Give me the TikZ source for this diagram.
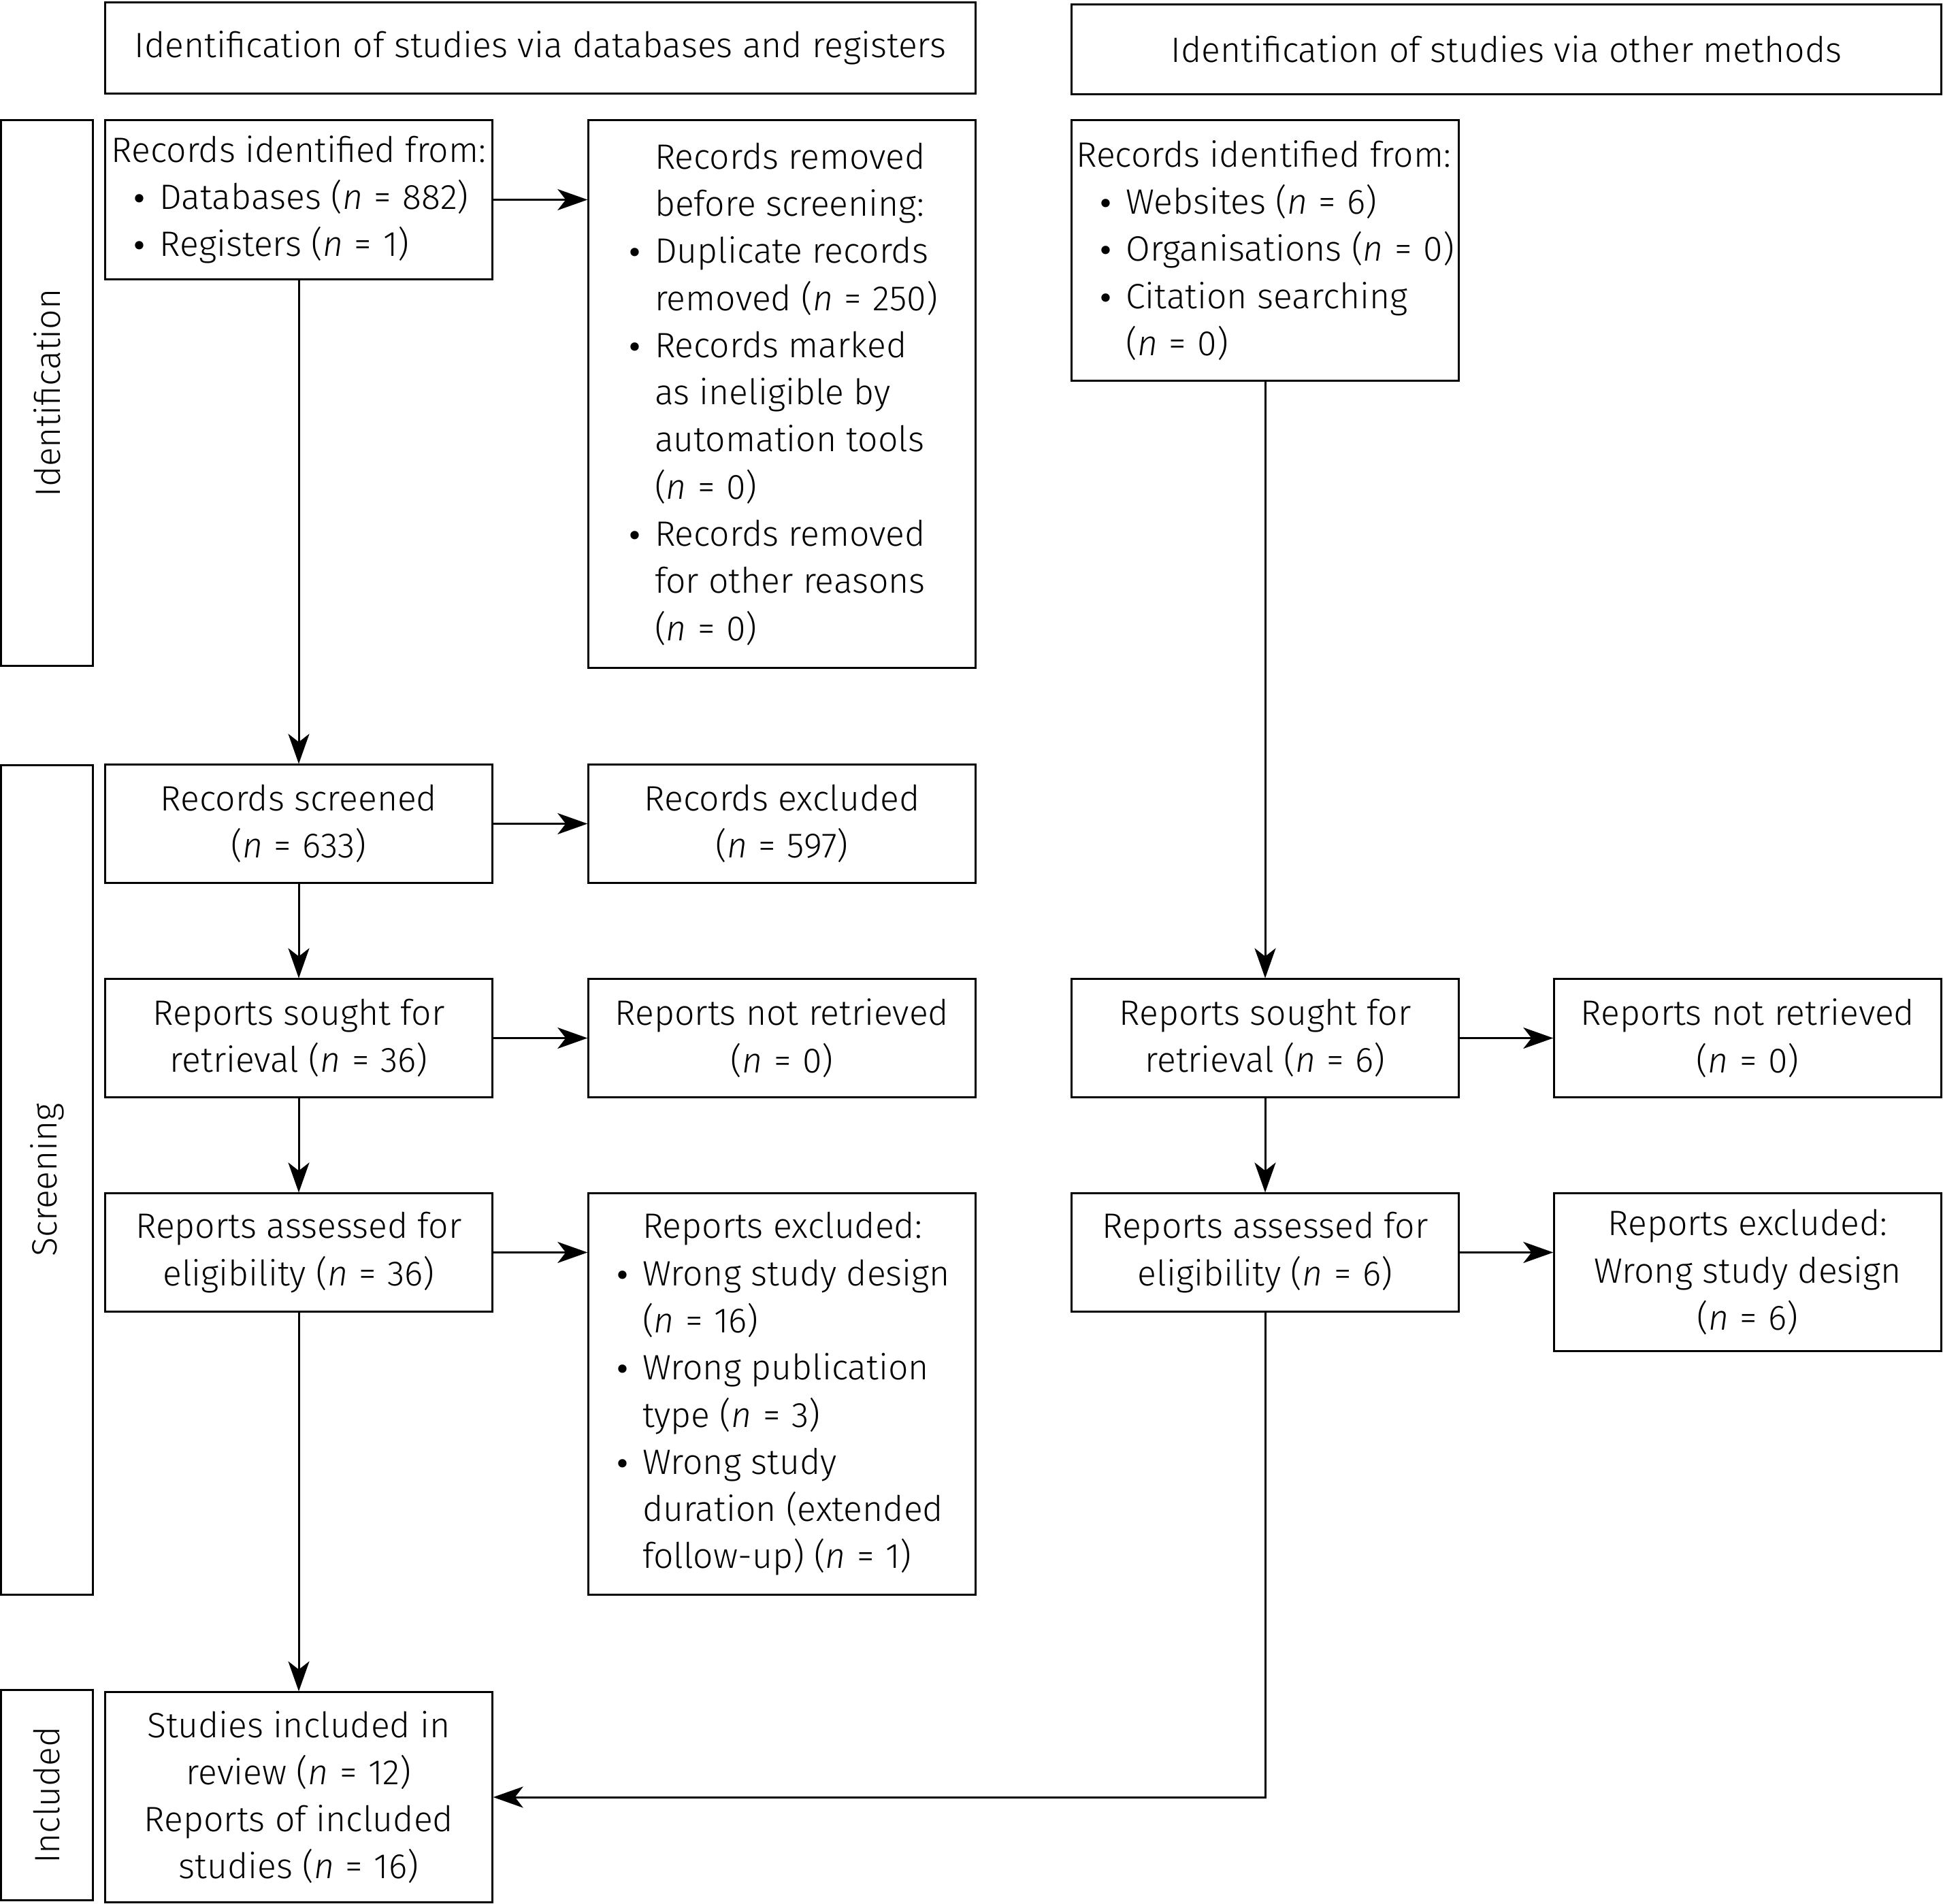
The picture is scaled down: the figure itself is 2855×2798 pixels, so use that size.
\documentclass[tikz,border=0pt]{standalone}
\usepackage{fontspec}
\IfFontExistsTF{Fira Sans Light}{\setmainfont{Fira Sans Light}}{\setmainfont{Fira Sans}}
\newfontfamily\bulf{DejaVu Sans}
\usetikzlibrary{arrows.meta}
\newcommand\bu{\makebox[0.42cm][l]{{\bulf\fontsize{12}{12}\selectfont •}}}
\newcommand\ind{\hspace*{0.42cm}}
\newcommand\nq[1]{(\textit{n}\hspace{0.32em}=\hspace{0.32em}#1)}
\tikzset{
  txt/.style={font=\fontsize{14.7}{19.7}\selectfont},
  box/.style={draw, txt, line width=0.85pt, inner sep=0pt, minimum width=5.68cm, minimum height=1.73cm, align=center},
  lbox/.style={box, align=left},
  side/.style={draw, line width=0.85pt, inner sep=0pt, minimum width=1.34cm},
  arr/.style={line width=0.85pt, -{Stealth[length=0.44cm, width=0.31cm, inset=0.12cm]}},
}
\begin{document}
\begin{tikzpicture}[x=0.01cm, y=-0.01cm]
\useasboundingbox (0,0) rectangle (2855,2798);
% headers
\node[box, minimum width=12.78cm, minimum height=1.33cm] (hl) at (794,70.5) {Identification of studies via databases and registers};
\node[box, minimum width=12.77cm, minimum height=1.31cm] (hr) at (2213.5,72.5) {Identification of studies via other methods};
% side labels
\node[side, minimum height=8.01cm] (sid) at (69,577.5) {};
\node[txt, rotate=90] (sidt) at (sid.center) {Identification};
\node[side, minimum height=12.18cm] (ssc) at (69,1734) {};
\node[txt, rotate=90] (ssct) at (ssc.center) {Screening};
\node[side, minimum height=3.08cm] (sin) at (69,2638) {};
\node[txt, rotate=90] (sint) at (sin.center) {Included};
% left column
\node[lbox, minimum height=2.33cm] (a) at (439,293.5) {Records identified from:\\
\hspace*{0.29cm}\bu Databases \nq{882}\\
\hspace*{0.29cm}\bu Registers \nq{1}};
\node[lbox, minimum height=8.04cm] (b) at (1149,579) {\ind Records removed\\
\ind before screening:\\
\bu Duplicate records\\
\ind removed \nq{250}\\
\bu Records marked\\
\ind as ineligible by\\
\ind automation tools\\
\ind \nq{0}\\
\bu Records removed\\
\ind for other reasons\\
\ind \nq{0}};
\node[lbox, minimum height=3.82cm] (c) at (1859,368) {Records identified from:\\
\hspace*{0.31cm}\bu Websites \nq{6}\\
\hspace*{0.31cm}\bu Organisations \nq{0}\\
\hspace*{0.31cm}\bu Citation searching\\
\hspace*{0.31cm}\ind \nq{0}};
\node[box] (scr) at (439,1210.5) {Records screened\\\nq{633}};
\node[box] (exc) at (1149,1210.5) {Records excluded\\\nq{597}};
\node[box] (sl) at (439,1525.5) {Reports sought for\\retrieval \nq{36}};
\node[box] (nl) at (1149,1525.5) {Reports not retrieved\\\nq{0}};
\node[box] (sr) at (1859,1525.5) {Reports sought for\\retrieval \nq{6}};
\node[box] (nr) at (2568,1525.5) {Reports not retrieved\\\nq{0}};
\node[box] (al) at (439,1840.5) {Reports assessed for\\eligibility \nq{36}};
\node[lbox, minimum height=5.89cm] (el) at (1149,2048.5) {\ind Reports excluded:\\
\bu Wrong study design\\
\ind \nq{16}\\
\bu Wrong publication\\
\ind type \nq{3}\\
\bu Wrong study\\
\ind duration (extended\\
\ind follow-up) \nq{1}};
\node[box] (ar) at (1859,1840.5) {Reports assessed for\\eligibility \nq{6}};
\node[box, minimum height=2.31cm] (er) at (2568,1869.5) {Reports excluded:\\Wrong study design\\\nq{6}};
\node[box, minimum height=3.08cm] (inc) at (439,2641) {Studies included in\\review \nq{12}\\Reports of included\\studies \nq{16}};
% connectors
\draw[arr] (a.east) -- (a.east -| b.west);
\draw[arr] (a.south) -- (scr.north);
\draw[arr] (scr.east) -- (exc.west);
\draw[arr] (scr.south) -- (sl.north);
\draw[arr] (sl.east) -- (nl.west);
\draw[arr] (sl.south) -- (al.north);
\draw[arr] (al.east) -- (al.east -| el.west);
\draw[arr] (al.south) -- (inc.north);
\draw[arr] (c.south) -- (sr.north);
\draw[arr] (sr.east) -- (nr.west);
\draw[arr] (sr.south) -- (ar.north);
\draw[arr] (ar.east) -- (ar.east -| er.west);
\draw[arr] (ar.south) |- (inc.east);
\end{tikzpicture}
\end{document}
